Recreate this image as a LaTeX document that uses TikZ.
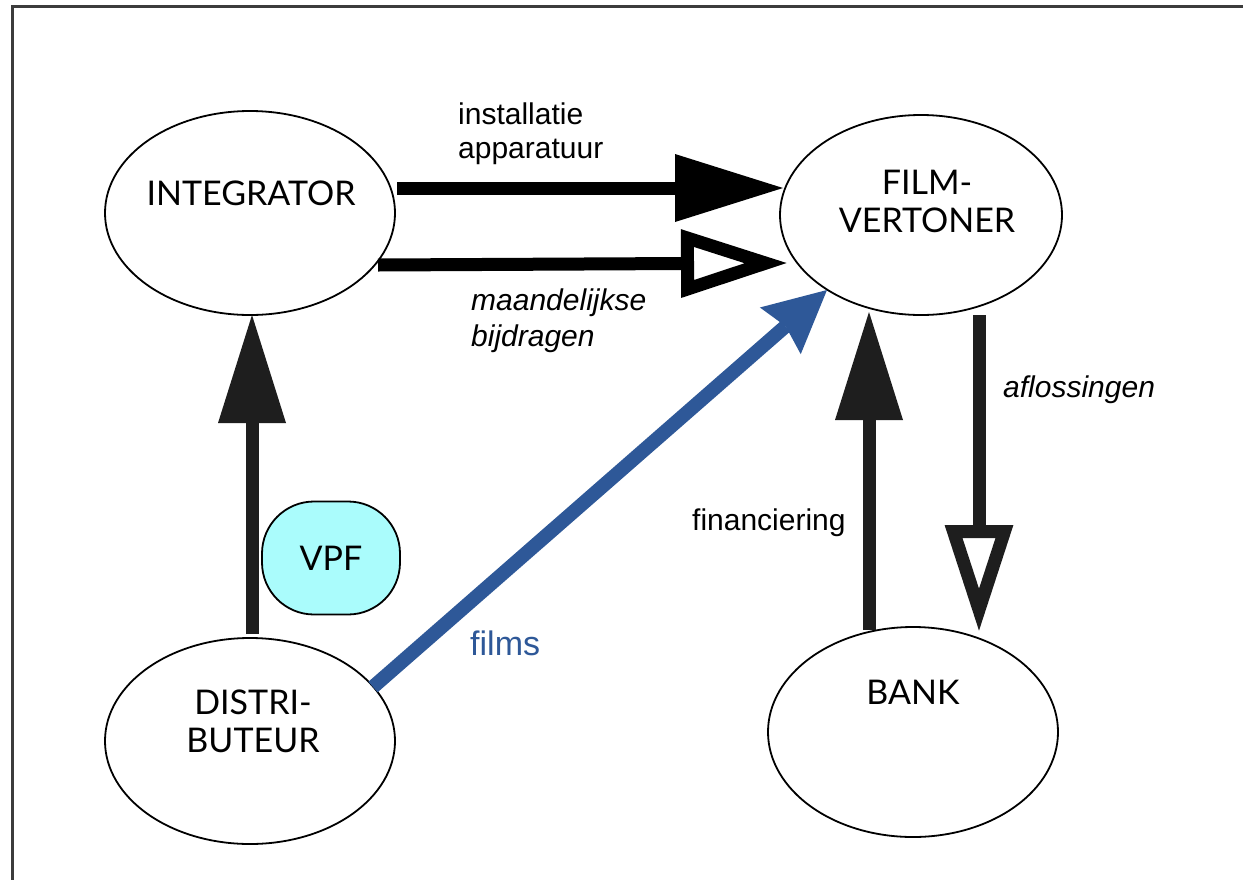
\documentclass[tikz,border=0pt]{standalone}
\usepackage{fontspec}
\setmainfont{Liberation Sans}
\newfontfamily\gillfont{Lato}
\usetikzlibrary{arrows.meta,shapes.geometric}
\definecolor{filmblue}{RGB}{46,88,152}
\definecolor{vpfcyan}{RGB}{170,252,252}
\definecolor{darkarrow}{RGB}{30,30,30}
\definecolor{framegray}{RGB}{60,60,60}
\begin{document}
\begin{tikzpicture}[x=1pt,y=-1pt,
  entity/.style={ellipse, draw, line width=1.8pt, inner sep=0pt},
  enttext/.style={font=\gillfont\fontsize{34}{38}\selectfont, align=center, inner sep=0pt},
  lbl/.style={font=\fontsize{30}{34}\selectfont, align=left, anchor=west, inner sep=0pt},
  flow/.style={line width=13pt},
  solidhead/.style={-{Triangle[length=108pt,width=68pt,line width=0pt]}},
  openhead/.style={-{Triangle[length=107pt,width=65pt,line width=13pt,fill=white]}},
  bluehead/.style={-{Stealth[length=62pt,width=62pt,inset=7pt,line width=0pt]}}
]
\useasboundingbox (0,0) rectangle (1243,879);
\fill[white] (0,0) rectangle (1243,879);
\draw[framegray, line width=3pt] (12,885) -- (12,6) -- (1250,6);

% entities
\node[entity, minimum width=290pt, minimum height=204pt] (int) at (250,213) {};
\node[enttext] (intT) at (251,193) {INTEGRATOR};
\node[entity, minimum width=282pt, minimum height=200pt] (film) at (921,215) {};
\node[enttext] (filmT) at (927,201) {FILM-\\VERTONER};
\node[entity, minimum width=290pt, minimum height=206pt] (dist) at (250,741) {};
\node[enttext] (distT) at (253,721) {DISTRI-\\BUTEUR};
\node[entity, minimum width=290pt, minimum height=210pt] (bank) at (913,732) {};
\node[enttext] (bankT) at (913,692) {BANK};
\node[draw, line width=1.8pt, fill=vpfcyan, rounded corners=52pt,
      minimum width=138pt, minimum height=113pt, inner sep=0pt,
      font=\gillfont\fontsize{34}{38}\selectfont] (vpf) at (331,558) {VPF};

% connector end points on the ellipse borders
\coordinate (a1s) at (397,188);
\coordinate (a1e) at (783,188);
\coordinate (a2s) at (378,265);
\coordinate (a2e) at (788,263);
\coordinate (b1s) at (373,687);
\coordinate (b1e) at (827,290);
\coordinate (c1s) at (252,634);
\coordinate (c1e) at (252,315);
\coordinate (c2s) at (869,630);
\coordinate (c2e) at (869,312);
\coordinate (c3s) at (979,315);
\coordinate (c3e) at (979,632);

% connectors
\draw[flow, solidhead, black] (a1s) -- (a1e);
\draw[flow, openhead, black] (a2s) -- (a2e);
\draw[filmblue, line width=14pt, bluehead] (b1s) -- (b1e);
\draw[flow, solidhead, darkarrow] (c1s) -- (c1e);
\draw[flow, solidhead, darkarrow] (c2s) -- (c2e);
\draw[flow, openhead, darkarrow] (c3s) -- (c3e);

% labels
\node[lbl] (linst) at (458,134) {installatie\\apparatuur};
\node[lbl, font=\itshape\fontsize{30}{36}\selectfont] (lmaand) at (471,321) {maandelijkse\\bijdragen};
\node[lbl, text=filmblue, font=\fontsize{34}{38}\selectfont] (lfilms) at (470,643) {films};
\node[lbl] (lfin) at (692,523) {financiering};
\node[lbl, font=\itshape\fontsize{30}{34}\selectfont] (lafl) at (1003,390) {aflossingen};
\end{tikzpicture}
\end{document}
